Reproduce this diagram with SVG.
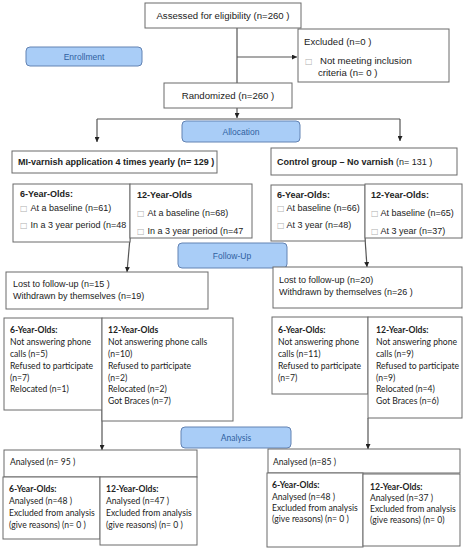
<svg xmlns="http://www.w3.org/2000/svg" width="466" height="550" viewBox="0 0 466 550">
<defs>
<marker id="arr" viewBox="0 0 10 10" refX="10" refY="5" markerWidth="5" markerHeight="5" orient="auto" markerUnits="userSpaceOnUse">
<path d="M0,0 L10,5 L0,10 z" fill="#222"/>
</marker>
<style>
.box{fill:#fff;stroke:#6a6a6a;stroke-width:1}
.pill{fill:#a9cdf7;stroke:#6383b3;stroke-width:1}
.pt{font-family:"Liberation Sans",Arial,sans-serif;font-size:8.5px;fill:#2f5f9f;text-anchor:middle}
.t{font-family:"Liberation Sans",Arial,sans-serif;font-size:9px;fill:#222}
.tl{font-family:"Liberation Sans",Arial,sans-serif;font-size:9.6px;fill:#222}
.tb{font-family:"Liberation Sans",Arial,sans-serif;font-size:9px;fill:#222;font-weight:bold}
.c{font-family:Lato,"Liberation Sans",sans-serif;font-size:8.6px;fill:#222}
.cb{font-family:Lato,"Liberation Sans",sans-serif;font-size:8.6px;fill:#222;font-weight:bold}
.sq{fill:#b0b0b0;font-family:"DejaVu Sans",sans-serif;font-size:8px}
.ln{fill:none;stroke:#555;stroke-width:1.2}
</style>
</defs>
<rect width="466" height="550" fill="#fff"/>

<g id="connectors">
<path class="ln" d="M237,28 V83"/>
<path class="ln" d="M237,57 H297" marker-end="url(#arr)"/>
<path class="ln" d="M237,108 V118" marker-end="url(#arr)"/>
<path class="ln" d="M97,119 H400"/>
<path class="ln" d="M97,119 V142" marker-end="url(#arr)"/>
<path class="ln" d="M400,119 V141" marker-end="url(#arr)"/>
<path class="ln" d="M130,238 L127,272" marker-end="url(#arr)"/>
<path class="ln" d="M365,238 L367,267" marker-end="url(#arr)"/>
<path class="ln" d="M102,410 V450" marker-end="url(#arr)"/>
<path class="ln" d="M368,418 V449" marker-end="url(#arr)"/>
</g>

<g id="assessed">
<rect class="box" x="145" y="3" width="156" height="25"/>
<text class="tl" x="223" y="18.5" text-anchor="middle">Assessed for eligibility (n=260  )</text>
</g>

<g id="excluded">
<rect class="box" x="298" y="29" width="151" height="53"/>
<text class="tl" x="304" y="45">Excluded  (n=0  )</text>
<text class="tl" x="305" y="64"><tspan class="sq">□</tspan><tspan x="320">Not meeting inclusion</tspan></text>
<text class="tl" x="318" y="75.5">criteria (n= 0 )</text>
</g>

<g id="enrollment">
<rect class="pill" x="26" y="47" width="116" height="19" rx="4"/>
<text class="pt" x="84" y="59.5">Enrollment</text>
</g>

<g id="randomized">
<rect class="box" x="164" y="83" width="128" height="25"/>
<text class="tl" x="228" y="98.5" text-anchor="middle">Randomized (n=260  )</text>
</g>

<g id="allocation">
<rect class="pill" x="182" y="121" width="118" height="21" rx="4"/>
<text class="pt" x="241" y="134.5">Allocation</text>
</g>

<g id="mi-varnish">
<rect class="box" x="12" y="151" width="205" height="22"/>
<text class="tb" x="18" y="165">MI-varnish application 4 times yearly  (n= 129 )</text>
</g>

<g id="control">
<rect class="box" x="271" y="148" width="186" height="27"/>
<text class="t" x="277" y="164.5"><tspan font-weight="bold">Control group – No varnish</tspan>  (n= 131 )</text>
</g>

<g id="mi-6yr">
<rect class="box" x="13" y="184" width="117" height="58"/>
<text class="tb" x="20" y="197">6-Year-Olds:</text>
<text class="t" x="20" y="210.5"><tspan class="sq">□</tspan><tspan dx="3">At a baseline (n=61)</tspan></text>
<text class="t" x="20" y="228"><tspan class="sq">□</tspan><tspan dx="3">In a 3 year period (n=48</tspan></text>
</g>

<g id="mi-12yr">
<rect class="box" x="130" y="184" width="122" height="54"/>
<text class="tb" x="137" y="198">12-Year-Olds</text>
<text class="t" x="137" y="216"><tspan class="sq">□</tspan><tspan dx="3">At a baseline (n=68)</tspan></text>
<text class="t" x="137" y="234"><tspan class="sq">□</tspan><tspan dx="3">In a 3 year period (n=47</tspan></text>
</g>

<g id="ctl-6yr">
<rect class="box" x="271" y="185" width="94" height="56"/>
<text class="tb" x="277" y="198">6-Year-Olds:</text>
<text class="t" x="277" y="211"><tspan class="sq">□</tspan><tspan dx="2">At baseline (n=66)</tspan></text>
<text class="t" x="277" y="228"><tspan class="sq">□</tspan><tspan dx="2">At 3 year (n=48)</tspan></text>
</g>

<g id="ctl-12yr">
<rect class="box" x="365" y="184" width="97" height="54"/>
<text class="tb" x="371" y="198">12-Year-Olds:</text>
<text class="t" x="371" y="216"><tspan class="sq">□</tspan><tspan dx="2">At baseline (n=65)</tspan></text>
<text class="t" x="371" y="234"><tspan class="sq">□</tspan><tspan dx="2">At 3 year (n=37)</tspan></text>
</g>

<g id="followup">
<rect class="pill" x="178" y="243" width="109" height="25" rx="4"/>
<text class="pt" x="232" y="258.5" font-size="8">Follow-Up</text>
</g>

<g id="mi-lost">
<rect class="box" x="6" y="272" width="202" height="37"/>
<text class="t" x="13" y="287">Lost to follow-up (n=15 )</text>
<text class="t" x="13" y="298.5">Withdrawn by themselves (n=19)</text>
</g>

<g id="ctl-lost">
<rect class="box" x="273" y="267" width="189" height="41"/>
<text class="t" x="279" y="283">Lost to follow-up (n=20)</text>
<text class="t" x="279" y="294.5">Withdrawn by themselves (n=26 )</text>
</g>

<g id="mi-fu-6yr">
<rect class="box" x="4" y="318" width="98" height="92"/>
<text class="cb" x="10" y="333">6-Year-Olds:</text>
<text class="c" x="10" y="345">Not answering phone</text>
<text class="c" x="10" y="357">calls (n=5)</text>
<text class="c" x="10" y="369">Refused to participate</text>
<text class="c" x="10" y="381">(n=7)</text>
<text class="c" x="10" y="392">Relocated (n=1)</text>
</g>

<g id="mi-fu-12yr">
<rect class="box" x="102" y="318" width="131" height="103"/>
<text class="cb" x="108" y="333">12-Year-Olds</text>
<text class="c" x="108" y="345">Not answering phone calls</text>
<text class="c" x="108" y="357">(n=10)</text>
<text class="c" x="108" y="369">Refused to participate</text>
<text class="c" x="108" y="381">(n=2)</text>
<text class="c" x="108" y="392">Relocated  (n=2)</text>
<text class="c" x="108" y="404">Got Braces (n=7)</text>
</g>

<g id="ctl-fu-6yr">
<rect class="box" x="272" y="317" width="96" height="77"/>
<text class="cb" x="278" y="333">6-Year-Olds:</text>
<text class="c" x="278" y="345">Not answering phone</text>
<text class="c" x="278" y="357">calls (n=11)</text>
<text class="c" x="278" y="369">Refused to participate</text>
<text class="c" x="278" y="381">(n=7)</text>
</g>

<g id="ctl-fu-12yr">
<rect class="box" x="368" y="317" width="94" height="101"/>
<text class="cb" x="376" y="333">12-Year-Olds:</text>
<text class="c" x="376" y="345">Not answering phone</text>
<text class="c" x="376" y="357">calls (n=9)</text>
<text class="c" x="376" y="369">Refused to participate</text>
<text class="c" x="376" y="381">(n=9)</text>
<text class="c" x="376" y="392">Relocated (n=4)</text>
<text class="c" x="376" y="404">Got Braces (n=6)</text>
</g>

<g id="analysis">
<rect class="pill" x="181" y="427" width="110" height="21" rx="4"/>
<text class="pt" x="236" y="440.5" font-size="8" style="font-family:Lato,'Liberation Sans',sans-serif">Analysis</text>
</g>

<g id="mi-analysed">
<rect class="box" x="4" y="450" width="193" height="27"/>
<text class="c" x="10" y="465">Analysed (n= 95 )</text>
</g>

<g id="mi-an-6yr">
<rect class="box" x="3" y="477" width="97" height="62"/>
<text class="cb" x="9" y="492">6-Year-Olds:</text>
<text class="c" x="9" y="504">Analysed (n=48  )</text>
<text class="c" x="9" y="516">Excluded from analysis</text>
<text class="c" x="9" y="528">(give reasons) (n= 0 )</text>
</g>

<g id="mi-an-12yr">
<rect class="box" x="100" y="477" width="97" height="68"/>
<text class="cb" x="106" y="492">12-Year-Olds:</text>
<text class="c" x="106" y="504">Analysed (n=47 )</text>
<text class="c" x="106" y="516">Excluded from analysis</text>
<text class="c" x="106" y="528">(give reasons) (n= 0 )</text>
</g>

<g id="ctl-analysed">
<rect class="box" x="268" y="449" width="192" height="24"/>
<text class="c" x="273" y="465">Analysed  (n=85 )</text>
</g>

<g id="ctl-an-6yr">
<rect class="box" x="267" y="473" width="96" height="74"/>
<text class="cb" x="272" y="488">6-Year-Olds:</text>
<text class="c" x="272" y="500">Analysed  (n=48 )</text>
<text class="c" x="272" y="511">Excluded from analysis</text>
<text class="c" x="272" y="522">(give reasons) (n= 0 )</text>
</g>

<g id="ctl-an-12yr">
<rect class="box" x="363" y="474" width="97" height="72"/>
<text class="cb" x="370" y="490">12-Year-Olds:</text>
<text class="c" x="370" y="501">Analysed (n=37 )</text>
<text class="c" x="370" y="512">Excluded from analysis</text>
<text class="c" x="370" y="523">(give reasons) (n= 0)</text>
</g>
</svg>
